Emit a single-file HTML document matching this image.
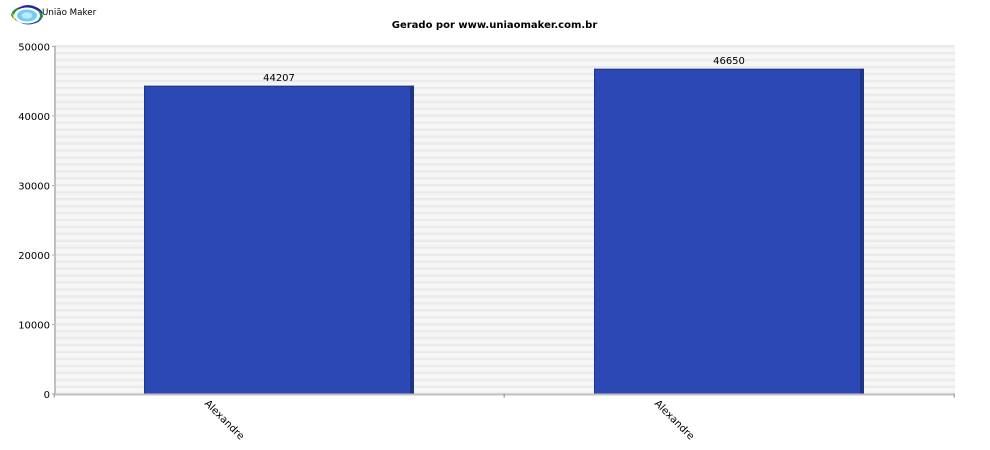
<!DOCTYPE html>
<html>
<head>
<meta charset="utf-8">
<style>
html,body{margin:0;padding:0;background:#fff;width:990px;height:450px;overflow:hidden}
svg{display:block}
text{font-family:"DejaVu Sans",sans-serif;fill:#000}
</style>
</head>
<body>
<svg id="chart" width="990" height="450" viewBox="0 0 990 450" xmlns="http://www.w3.org/2000/svg">
<rect x="0" y="0" width="990" height="450" fill="#ffffff"/>
<g>
<path d="M11 15 Q13 8 21 7 L17 15 Q19 20 25 23 Q14 22 11 15Z" fill="#1f8f3a"/>
<path d="M12 13 L14 20 L17 17Z" fill="#e6e020"/>
<path d="M18 8 Q28 2 38 8 Q42 10 43 14 L38 11 Q28 6 19 10Z" fill="#22279a"/>
<path d="M17 20 Q27 26 37 21 L41 17 L43 15 Q42 22 33 24 Q23 26 17 20Z" fill="#1d5fa8"/>
<path d="M38 10 Q43 13 43 17 L39 20Z" fill="#1f8f3a"/>
<ellipse cx="27" cy="15.5" rx="13" ry="8" fill="#ffffff"/>
<ellipse cx="27" cy="15.5" rx="10" ry="6" fill="#6fcdf3"/>
<ellipse cx="27" cy="15.5" rx="5.5" ry="3.2" fill="#bdeafb"/>
</g>
<text x="42" y="15" font-size="8.7">União Maker</text>
<text x="494.5" y="28" font-size="10" font-weight="bold" text-anchor="middle">Gerado por www.uniaomaker.com.br</text>
<g id="plot"></g>
</svg>
<script>
const categories = ['Alexandre', 'Alexandre'];
const seriesValues = [44207, 46650];
const yTickValues = [0, 10000, 20000, 30000, 40000, 50000];
const yMax = 50000;
const stripeStep = 1000;

const NS = 'http://www.w3.org/2000/svg';
const plot = document.getElementById('plot');
const plotLeft = 55, plotRight = 955, plotTop = 46.5, plotBottom = 394;
const yScale = v => plotBottom - (v / yMax) * (plotBottom - plotTop);
const catWidth = (plotRight - plotLeft) / categories.length;
const xBand = i => plotLeft + i * catWidth;

function mk(tag, attrs, text) {
  const e = document.createElementNS(NS, tag);
  for (const k in attrs) e.setAttribute(k, attrs[k]);
  if (text !== undefined) e.textContent = text;
  plot.appendChild(e);
  return e;
}

const bg = mk('rect', {x: plotLeft, y: plotTop - 1.5, width: plotRight - plotLeft, height: plotBottom - plotTop + 1.5, fill: '#f6f6f6'});



for (let v = 0; v <= yMax; v += stripeStep) {
  const s = mk('rect', {x: plotLeft, y: yScale(v) - 1.5, width: plotRight - plotLeft, height: 2.5, fill: '#ebebeb'});
  
  
}

seriesValues.forEach((val, i) => {
  const left = xBand(i) + 89;
  const w = catWidth * 0.6;
  const top = yScale(val) - 1;
  const bar = mk('rect', {x: left, y: top, width: w, height: plotBottom - top, fill: '#2c48b4'});
  
  
  const side = mk('rect', {x: left + w - 4, y: top, width: 4, height: plotBottom - top, fill: '#1f3585'});
  
  
  const topEdge = mk('rect', {x: left, y: top, width: w, height: 1, fill: '#1f3585'});
  
  
  const leftEdge = mk('rect', {x: left, y: top, width: 1, height: plotBottom - top, fill: '#1f3585'});
  
  
  const lab = mk('text', {x: left + w / 2, y: top - 5, 'font-size': 10, 'text-anchor': 'middle'}, String(val));
  
  
  const cx = left + 60;
  const cat = mk('text', {x: cx, y: 404, 'font-size': 10.2, transform: 'rotate(45 ' + cx + ' 404)'}, categories[i]);
  
  
});

const yAxis = mk('rect', {x: 54, y: plotTop - 1, width: 2, height: plotBottom - plotTop + 2, fill: '#c0c0c0'});


const xAxis = mk('rect', {x: 54, y: plotBottom - 0.5, width: plotRight - 54, height: 2, fill: '#c0c0c0'});



yTickValues.forEach(v => {
  const y = yScale(v);
  const t = mk('rect', {x: 52, y: y - 0.5, width: 2, height: 1, fill: '#a8a8a8'});
  
  
  const l = mk('text', {x: 50, y: y + 4, 'font-size': 10, 'text-anchor': 'end'}, String(v));
  
  
});

for (let i = 0; i <= categories.length; i++) {
  const t = mk('rect', {x: xBand(i) - 1.5, y: plotBottom - 0.5, width: 1.5, height: 4, fill: '#a8a8a8'});
  
  
}
</script>
</body>
</html>
